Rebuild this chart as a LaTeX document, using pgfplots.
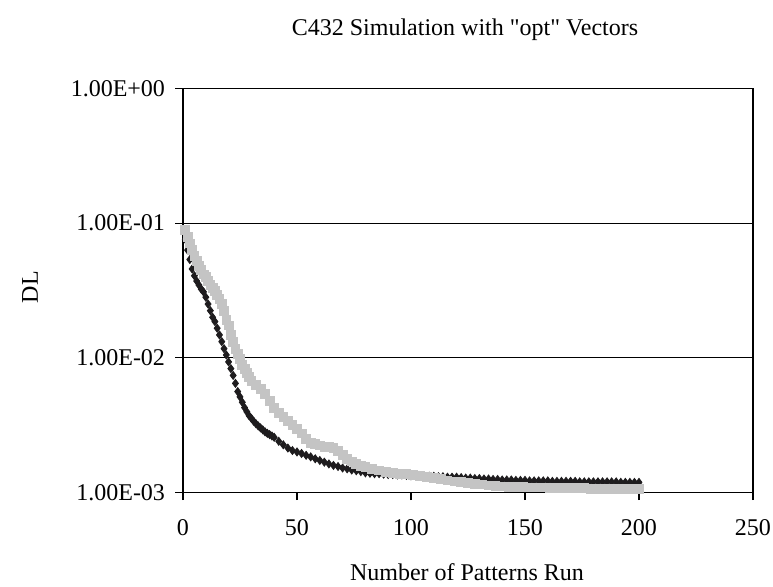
\documentclass[border=0pt]{standalone}
\usepackage{fontspec}
\setmainfont{Liberation Serif}[Ligatures=TeXOff]
\usepackage{pgfplots}
\pgfplotsset{compat=1.18}
\definecolor{lgray}{RGB}{196,196,196}
\definecolor{dblack}{RGB}{30,28,30}
\begin{document}
\fontsize{12}{14.4}\selectfont
\begin{tikzpicture}
\path[use as bounding box] (-91.5pt,-46.75pt) rectangle (295pt,246.25pt);
\begin{axis}[
  at={(0,0)}, anchor=south west,
  scale only axis, width=285pt, height=202pt,
  ymode=log, xmin=0, xmax=250, ymin=1e-3, ymax=1,
  xtick={0,50,100,150,200,250},
  ytick={1e-3,1e-2,1e-1,1},
  yticklabels={1.00E-03,1.00E-02,1.00E-01,1.00E+00},
  yminorticks=false,
  ymajorgrids=true, grid style={black, line width=0.5pt},
  axis line style={line width=0.7pt},
  tick align=outside, major tick length=3.8pt,
  tick style={black, line width=0.6pt},
  xtick pos=bottom, ytick pos=left,
  /pgf/number format/assume math mode=true,
  ticklabel style={font=\fontsize{12}{14.4}\selectfont},
  xticklabel style={yshift=-5.5pt},
  yticklabel style={xshift=-1pt},
  clip=false,
]
\addplot[only marks, mark=diamond*, mark size=2pt, color=dblack] coordinates {
(1,0.0759) (2,0.0631) (3,0.0537) (4,0.0457) (5,0.0407) (6,0.0372) (7,0.0347) (8,0.0324) (9,0.0309) (10,0.0282)
(11,0.0251) (12,0.0224) (13,0.0200) (14,0.0186) (15,0.0166) (16,0.0148) (17,0.0132) (18,0.0117) (19,0.0105) (20,0.00933)
(21,0.00832) (22,0.00741) (23,0.00646) (24,0.00562) (25,0.00513) (26,0.00468) (27,0.00427) (28,0.00398) (29,0.00372) (30,0.00355)
(31,0.00338) (32,0.00324) (33,0.00312) (34,0.00302) (35,0.00292) (36,0.00282) (37,0.00275) (38,0.00269) (39,0.00263) (40,0.00257)
(42,0.00240) (44,0.00226) (46,0.00214) (48,0.00205) (50,0.00200) (52,0.00195) (54,0.00189) (56,0.00184) (58,0.00178) (60,0.00173)
(62,0.00168) (64,0.00163) (66,0.00159) (68,0.00156) (70,0.00152) (72,0.00150) (74,0.00147) (76,0.00145) (78,0.00143) (80,0.00140)
(82,0.00139) (84,0.00138) (86,0.00138) (88,0.00137) (90,0.00136) (92,0.00136) (94,0.00135) (96,0.00135) (98,0.00134) (100,0.00133)
(102,0.00133) (104,0.00133) (106,0.00132) (108,0.00132) (110,0.00132) (112,0.00131) (114,0.00131) (116,0.00130) (118,0.00130) (120,0.00130)
(122,0.00129) (124,0.00128) (126,0.00128) (128,0.00127) (130,0.00127) (132,0.00126) (134,0.00126) (136,0.00125) (138,0.00125) (140,0.00124)
(142,0.00124) (144,0.00124) (146,0.00123) (148,0.00123) (150,0.00123) (152,0.00122) (154,0.00122) (156,0.00122) (158,0.00122) (160,0.00122)
(162,0.00121) (164,0.00121) (166,0.00121) (168,0.00121) (170,0.00121) (172,0.00121) (174,0.00120) (176,0.00120) (178,0.00120) (180,0.00120)
(182,0.00120) (184,0.00120) (186,0.00120) (188,0.00120) (190,0.00120) (192,0.00119) (194,0.00119) (196,0.00119) (198,0.00119) (200,0.00119)
};
\addplot[only marks, mark=square*, mark size=2.2pt, color=lgray] coordinates {
(1,0.0891) (2,0.0794) (3,0.0708) (4,0.0631) (5,0.0575) (6,0.0525) (7,0.0479) (8,0.0447) (9,0.0417) (10,0.0398)
(11,0.0372) (12,0.0347) (13,0.0331) (14,0.0316) (15,0.0295) (16,0.0275) (17,0.0251) (18,0.0224) (19,0.0191) (20,0.0174)
(21,0.0148) (22,0.0132) (23,0.0117) (24,0.0107) (25,0.00977) (26,0.00891) (27,0.00832) (28,0.00776) (29,0.00724) (30,0.00676)
(32,0.00630) (34,0.00590) (36,0.00537) (38,0.00480) (40,0.00427) (42,0.00389) (44,0.00363) (46,0.00339) (48,0.00316) (50,0.00295)
(52,0.00275) (54,0.00251) (56,0.00234) (58,0.00229) (60,0.00224) (62,0.00219) (64,0.00219) (66,0.00214) (68,0.00204) (70,0.00191)
(72,0.00178) (74,0.00170) (76,0.00162) (78,0.00158) (80,0.00155) (83,0.00150) (86,0.00146) (89,0.00143) (92,0.00140) (95,0.00138)
(98,0.00137) (101,0.00135) (104,0.00133) (107,0.00131) (110,0.00129) (113,0.00126) (116,0.00123) (119,0.00121) (122,0.00120) (125,0.00118)
(128,0.00116) (131,0.00115) (134,0.00113) (137,0.00112) (140,0.00111) (143,0.00110) (146,0.00110) (149,0.00110) (152,0.00109) (155,0.00109)
(158,0.00109) (161,0.00108) (164,0.00108) (167,0.00108) (170,0.00108) (173,0.00108) (176,0.00108) (179,0.00107) (182,0.00107) (185,0.00107)
(188,0.00107) (191,0.00107) (194,0.00107) (197,0.00107) (200,0.00107)
};
\end{axis}
\node[anchor=base] at (141pt,228.75pt) {C432 Simulation with "opt" Vectors};
\node[anchor=base] at (142pt,-43.75pt) {Number of Patterns Run};
\node[rotate=90] at (-76.5pt,102.75pt) {DL};
\end{tikzpicture}
\end{document}
